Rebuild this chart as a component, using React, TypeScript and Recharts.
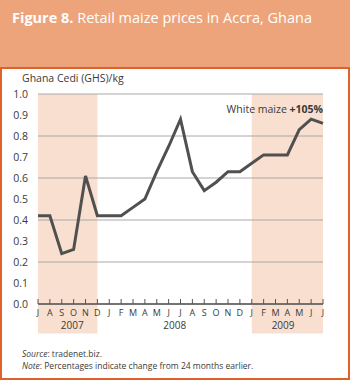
import React from 'react';
import { LineChart, Line, XAxis, YAxis, CartesianGrid, ReferenceArea, LabelList } from 'recharts';

const periods = [
  '2007-07', '2007-08', '2007-09', '2007-10', '2007-11', '2007-12',
  '2008-01', '2008-02', '2008-03', '2008-04', '2008-05', '2008-06',
  '2008-07', '2008-08', '2008-09', '2008-10', '2008-11', '2008-12',
  '2009-01', '2009-02', '2009-03', '2009-04', '2009-05', '2009-06', '2009-07',
];
const monthLetters = [
  'J', 'A', 'S', 'O', 'N', 'D',
  'J', 'F', 'M', 'A', 'M', 'J', 'J', 'A', 'S', 'O', 'N', 'D',
  'J', 'F', 'M', 'A', 'M', 'J', 'J',
];
const whiteMaize = [
  0.42, 0.42, 0.24, 0.26, 0.61, 0.42,
  0.42, 0.42, 0.46, 0.50, 0.63, 0.75, 0.88, 0.63, 0.54, 0.58, 0.63, 0.63,
  0.67, 0.71, 0.71, 0.71, 0.83, 0.88, 0.86,
];
const yTicks = [0, 0.1, 0.2, 0.3, 0.4, 0.5, 0.6, 0.7, 0.8, 0.9, 1.0];
const years = ['2007', '2008', '2009'];
const yearTickPos = [2.5, 11.5, 21];
const shadedPeriods = [
  { from: '2007-07', to: '2007-12' },
  { from: '2009-01', to: '2009-07' },
];
const seriesLabel = 'White maize';
const changeLabel = '+105%';

const data = periods.map((p, i) => ({ period: p, idx: i, month: monthLetters[i], price: whiteMaize[i] }));

const FONT = '"Open Sans", "DejaVu Sans", sans-serif';
const TEXT = '#3a3a3a';

const MonthTick = (props: any) => {
  const { x, y, payload } = props;
  return (
    <g>
      <line x1={x} x2={x} y1={y - 5} y2={y} stroke="#555" strokeWidth={1} />
      <text x={x} y={y + 12} textAnchor="middle" fontSize={9} fill={TEXT} fontFamily={FONT}>
        {monthLetters[payload.index] ?? payload.value}
      </text>
    </g>
  );
};

const EndLabel = (props: any) => {
  const { x, y, index } = props;
  if (index !== data.length - 1) return null;
  return (
    <text x={x} y={y - 10} textAnchor="end" fontSize={10.5} fill={TEXT} fontFamily={FONT}>
      {seriesLabel + ' '}
      <tspan fontWeight="bold">{changeLabel}</tspan>
    </text>
  );
};

export default function App() {
  return (
    <div style={{ position: 'absolute', left: 0, top: 0, width: 350, height: 380, fontFamily: FONT, background: '#fff' }}>
      <div style={{ position: 'absolute', left: 0, top: 0, width: 350, height: 68, background: '#eda47a' }} />
      <div style={{ position: 'absolute', left: 0, top: 67, width: 346, height: 309, border: '2px solid #e0612a' }} />
      <div style={{ position: 'absolute', left: 12, top: 8, color: '#fff', fontSize: 14.5, whiteSpace: 'nowrap' }}>
        <b>Figure 8.</b> Retail maize prices in Accra, Ghana
      </div>
      <div style={{ position: 'absolute', left: 22, top: 71, color: TEXT, fontSize: 10.5, whiteSpace: 'nowrap' }}>
        Ghana Cedi (GHS)/kg
      </div>
      <div style={{ position: 'absolute', left: 22, top: 348, color: TEXT, fontSize: 8.5, lineHeight: '12px', whiteSpace: 'nowrap' }}>
        <div><i>Source</i>: tradenet.biz.</div>
        <div><i>Note</i>: Percentages indicate change from 24 months earlier.</div>
      </div>
      <div style={{ position: 'absolute', left: 0, top: 0 }}>
        <LineChart width={350} height={380} data={data} margin={{ top: 94, right: 27, bottom: 44, left: 8 }}>
          {shadedPeriods.map((s) => (
            <ReferenceArea
              key={s.from}
              xAxisId="m"
              x1={s.from}
              x2={s.to}
              y1={-0.14}
              y2={1.0}
              ifOverflow="visible"
              fill="#f9dfcf"
              fillOpacity={1}
              stroke="none"
              zIndex={-200}
            />
          ))}
          <CartesianGrid vertical={false} stroke="#a8a8a8" strokeWidth={1} horizontalValues={yTicks} />
          <XAxis
            xAxisId="m"
            dataKey="period"
            interval={0}
            height={12}
            tickSize={0}
            tickMargin={0}
            tickLine={false}
            axisLine={{ stroke: '#555', strokeWidth: 1.5 }}
            tick={<MonthTick />}
          />
          <XAxis
            xAxisId="yr"
            dataKey="idx"
            type="number"
            domain={[-0.5, 24.5]}
            ticks={yearTickPos}
            tickFormatter={(v: number) => years[yearTickPos.indexOf(v)] ?? ''}
            height={20}
            axisLine={false}
            tickLine={false}
            tickSize={0}
            tickMargin={6}
            tick={{ fontSize: 10, fill: TEXT, fontFamily: FONT }}
          />
          <YAxis
            domain={[0, 1]}
            ticks={yTicks}
            width={30}
            axisLine={false}
            tickLine={false}
            tickMargin={4}
            tickFormatter={(v: number) => v.toFixed(1)}
            tick={{ fontSize: 10.5, fill: TEXT, fontFamily: FONT }}
          />
          <Line
            xAxisId="m"
            dataKey="price"
            stroke="#505050"
            strokeWidth={3}
            dot={false}
            isAnimationActive={false}
            strokeLinejoin="miter"
          >
            <LabelList dataKey="price" content={<EndLabel />} />
          </Line>
        </LineChart>
      </div>
    </div>
  );
}
